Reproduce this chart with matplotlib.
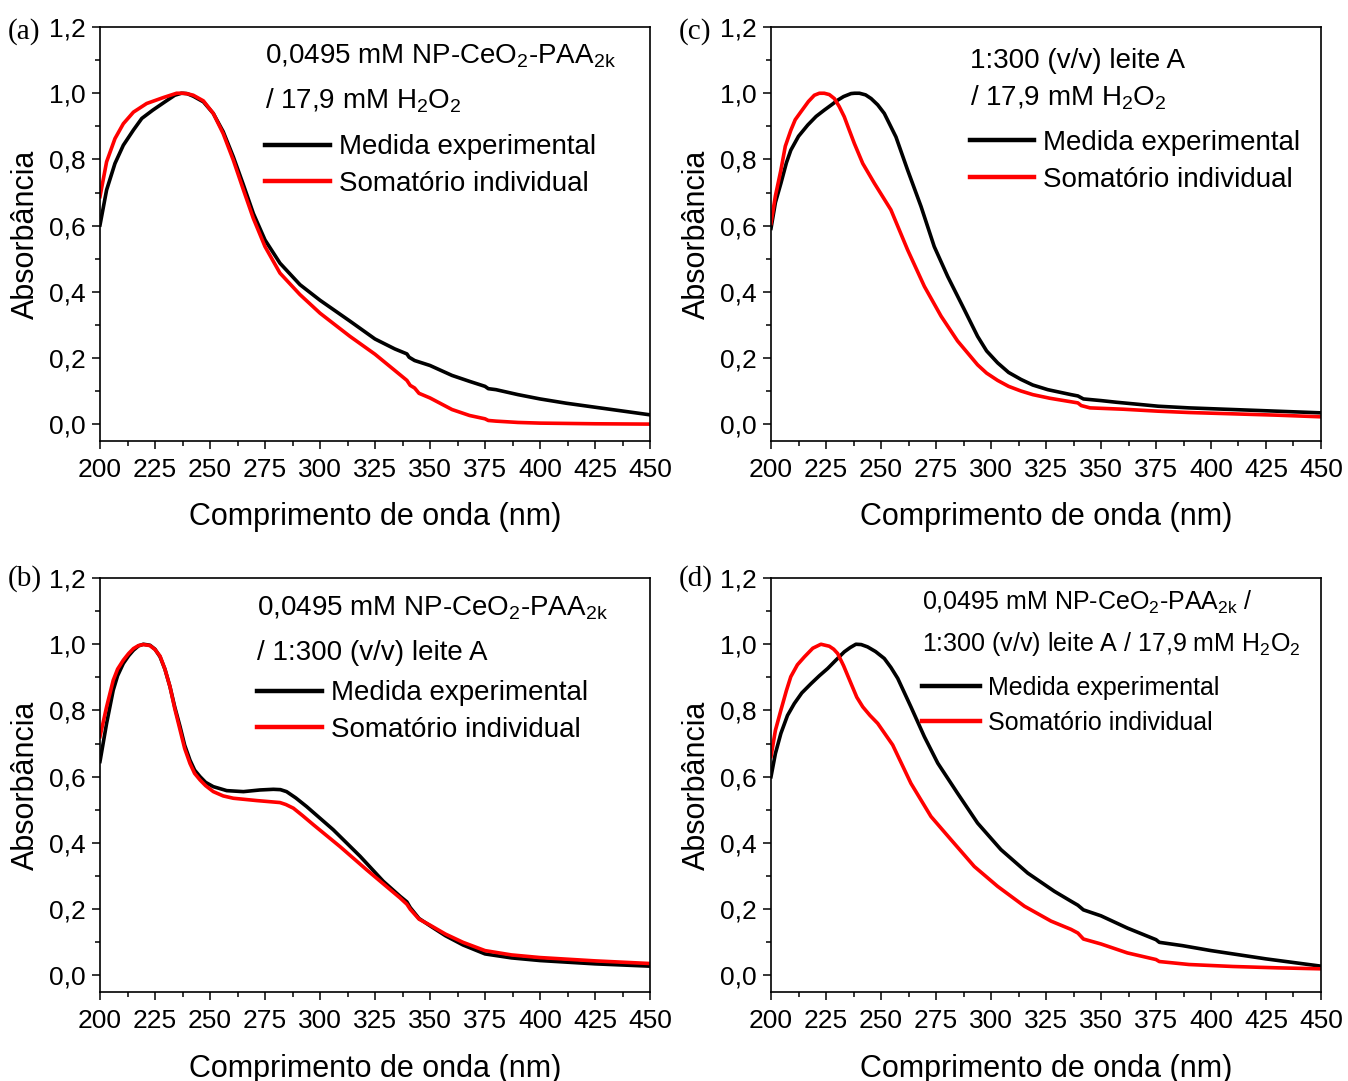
import numpy as np
import matplotlib
matplotlib.use('Agg')
from matplotlib import pyplot as plt
from matplotlib.lines import Line2D
from matplotlib.ticker import MultipleLocator, FuncFormatter

plt.rcParams['font.family'] = ['Liberation Sans', 'DejaVu Sans']
plt.rcParams['mathtext.fontset'] = 'custom'
plt.rcParams['mathtext.rm'] = 'Liberation Sans'
plt.rcParams['mathtext.it'] = 'Liberation Sans:italic'

# (a) NP-CeO2-PAA2k / H2O2
wl_a_exp = [200, 203, 206.8, 210.6, 215.2, 219, 224, 229.5, 234, 237, 239.5, 242.4, 247, 251.5, 256, 260.6,
            265.2, 269.7, 275, 281.8, 290.9, 300, 313.6, 325, 334, 339.5, 340.5, 343, 350, 360, 368,
            375, 376.5, 380, 390, 400, 412, 425, 437, 450]
abs_a_exp = [0.602, 0.708, 0.788, 0.843, 0.889, 0.924, 0.949, 0.974, 0.994, 1.0, 0.999, 0.991, 0.974, 0.939,
             0.884, 0.808, 0.723, 0.637, 0.557, 0.487, 0.422, 0.375, 0.312, 0.258, 0.228, 0.213, 0.203,
             0.193, 0.178, 0.148, 0.130, 0.115, 0.108, 0.105, 0.090, 0.077, 0.064, 0.052, 0.041, 0.029]
wl_a_sum = [200, 203, 206.8, 210.6, 215.2, 221.2, 228.8, 234.8, 237.9, 240, 242.4, 247, 251.5, 256, 260.6,
            265.2, 269.7, 275, 281.8, 290.9, 300, 313.6, 325, 334, 339.5, 341, 343, 345, 350, 360, 368,
            375, 376.5, 380, 390, 400, 425, 450]
abs_a_sum = [0.688, 0.793, 0.863, 0.908, 0.943, 0.969, 0.987, 1.0, 1.0, 0.998, 0.994, 0.977, 0.939, 0.878,
             0.798, 0.708, 0.622, 0.537, 0.457, 0.392, 0.336, 0.266, 0.212, 0.163, 0.133, 0.118, 0.110,
             0.094, 0.080, 0.045, 0.027, 0.017, 0.012, 0.010, 0.006, 0.004, 0.002, 0.001]

# (c) leite A / H2O2
wl_c_exp = [200, 202, 204.5, 207, 209, 212.5, 216.7, 220.5, 224.2, 227.5, 230.3, 233, 236.4, 238, 240.2,
            243, 245.5, 248.5, 251.5, 256.8, 262.1, 268.2, 274.2, 280.3, 287.1, 293.9, 298, 303, 308,
            313.6, 319, 325.8, 336.4, 339.5, 342, 350, 357, 365, 376, 390, 410, 430, 450]
abs_c_exp = [0.592, 0.670, 0.728, 0.790, 0.828, 0.870, 0.904, 0.930, 0.949, 0.965, 0.979, 0.990, 0.999,
             1.0, 1.0, 0.995, 0.984, 0.965, 0.939, 0.868, 0.768, 0.658, 0.537, 0.447, 0.357, 0.266,
             0.222, 0.186, 0.157, 0.136, 0.119, 0.105, 0.090, 0.086, 0.077, 0.072, 0.067, 0.062, 0.055,
             0.050, 0.045, 0.040, 0.035]
wl_c_sum = [200, 202, 204.5, 206.5, 209, 211, 213.6, 217, 219.7, 222, 224.2, 226.5, 228.8, 231, 233.3,
            235.5, 237.9, 241.7, 247, 254.5, 262.1, 269.7, 277.3, 284.8, 293.9, 298, 303, 308, 313.6,
            319, 326.8, 339.5, 341, 345, 360, 376, 390, 410, 430, 450]
abs_c_sum = [0.607, 0.690, 0.768, 0.840, 0.888, 0.920, 0.944, 0.975, 0.994, 1.0, 1.0, 0.996, 0.984, 0.960,
             0.929, 0.890, 0.848, 0.788, 0.728, 0.648, 0.527, 0.417, 0.327, 0.252, 0.180, 0.155, 0.133,
             0.115, 0.101, 0.090, 0.079, 0.065, 0.057, 0.050, 0.046, 0.040, 0.036, 0.032, 0.028, 0.023]

# (b) NP-CeO2-PAA2k / leite A
wl_b_exp = [200, 203, 206, 208, 210.6, 213, 215.2, 217.5, 219.7, 222.7, 225, 227.3, 229.5, 231.8, 234,
            236.4, 238.5, 240.9, 243, 245.5, 248, 251.5, 257.6, 265.2, 272.7, 278.8, 282, 284.8, 289,
            293.9, 306, 318.2, 328.8, 336.4, 339.5, 341, 345, 350, 357, 365, 375, 387, 400, 425, 450]
abs_b_exp = [0.646, 0.761, 0.861, 0.905, 0.942, 0.965, 0.982, 0.995, 1.0, 0.997, 0.985, 0.962, 0.925,
             0.872, 0.810, 0.751, 0.695, 0.650, 0.620, 0.600, 0.583, 0.570, 0.558, 0.555, 0.560, 0.562,
             0.561, 0.555, 0.536, 0.510, 0.440, 0.360, 0.284, 0.239, 0.222, 0.205, 0.172, 0.150, 0.120,
             0.092, 0.065, 0.053, 0.045, 0.035, 0.028]
wl_b_sum = [200, 203, 206, 208, 210.6, 213, 215.2, 217.5, 219.7, 222.7, 225, 227.3, 229.5, 231.8, 234,
            236.4, 238.5, 240.9, 243, 245.5, 248, 251.5, 256, 260.6, 271.2, 281.8, 284.5, 287.9, 292,
            297, 309.1, 321.2, 336.4, 339.5, 341, 345, 350, 357, 365, 375, 387, 400, 425, 450]
abs_b_sum = [0.721, 0.811, 0.891, 0.925, 0.952, 0.972, 0.987, 0.996, 0.999, 0.996, 0.984, 0.964, 0.925,
             0.872, 0.805, 0.741, 0.685, 0.640, 0.610, 0.590, 0.573, 0.555, 0.542, 0.535, 0.528, 0.522,
             0.516, 0.505, 0.483, 0.455, 0.389, 0.319, 0.234, 0.215, 0.200, 0.170, 0.152, 0.125, 0.100,
             0.075, 0.062, 0.054, 0.044, 0.036]

# (d) NP-CeO2-PAA2k / leite A / H2O2
wl_d_exp = [200, 202, 204.5, 207.5, 210.6, 214, 218.2, 222, 225.8, 229.5, 233.3, 236, 238.6, 241, 243.9,
            247.5, 251.5, 254.5, 257.6, 263.6, 269.7, 275.8, 284.8, 293.9, 304.5, 316.7, 328.8, 336.4,
            339.5, 342, 350, 362, 375, 376.5, 387, 400, 425, 450]
abs_d_exp = [0.600, 0.670, 0.731, 0.785, 0.821, 0.853, 0.881, 0.905, 0.927, 0.952, 0.977, 0.990, 1.0,
             0.999, 0.992, 0.978, 0.957, 0.930, 0.897, 0.811, 0.721, 0.641, 0.550, 0.460, 0.380, 0.309,
             0.254, 0.224, 0.212, 0.198, 0.180, 0.143, 0.108, 0.100, 0.090, 0.075, 0.050, 0.028]
wl_d_sum = [200, 202, 204.5, 207, 209, 212, 215.2, 219, 222.7, 226.5, 228.5, 230.3, 233, 236.4, 239,
            241.7, 245, 248.5, 255.3, 263.6, 272.7, 281.8, 292.4, 303, 315.2, 327.3, 336.4, 339.5, 342,
            350, 362, 375, 376.5, 390, 410, 430, 450]
abs_d_sum = [0.661, 0.740, 0.801, 0.860, 0.902, 0.938, 0.962, 0.988, 1.0, 0.994, 0.985, 0.972, 0.935,
             0.881, 0.840, 0.811, 0.785, 0.761, 0.696, 0.580, 0.480, 0.410, 0.329, 0.269, 0.209, 0.164,
             0.139, 0.128, 0.110, 0.095, 0.068, 0.048, 0.042, 0.033, 0.027, 0.023, 0.020]

lbl_exp = 'Medida experimental'
lbl_sum = u'Somatório individual'

W, H = 1348, 1081
fig = plt.figure(figsize=(W / 100., H / 100.), dpi=100)

def px_axes(x0, y0, x1, y1):
    # axes box given in pixel coords (top-left origin)
    return fig.add_axes([x0 / W, 1 - y1 / H, (x1 - x0) / W, (y1 - y0) / H])

def comma(v, pos):
    return ('%.1f' % v).replace('.', ',')

def style(ax):
    ax.set_xlim(200, 450)
    ax.set_ylim(-0.05, 1.2)
    ax.xaxis.set_major_locator(MultipleLocator(25))
    ax.xaxis.set_minor_locator(MultipleLocator(12.5))
    ax.yaxis.set_major_locator(MultipleLocator(0.2))
    ax.yaxis.set_minor_locator(MultipleLocator(0.1))
    ax.yaxis.set_major_formatter(FuncFormatter(comma))
    ax.tick_params(which='both', direction='out', top=False, right=False, width=1.1, labelsize=19)
    ax.tick_params(axis='x', pad=6)
    ax.tick_params(axis='y', pad=4)
    ax.tick_params(which='major', length=6)
    ax.tick_params(which='minor', length=3.5)
    for s in ax.spines.values():
        s.set_linewidth(1.2)
    ax.set_xlabel('Comprimento de onda (nm)', fontsize=22, labelpad=15)
    ax.set_ylabel(u'Absorbância', fontsize=22, labelpad=6)

def draw(ax, wl_e, ab_e, wl_s, ab_s):
    ax.plot(wl_e, ab_e, color='black', lw=2.6, solid_joinstyle='round')
    ax.plot(wl_s, ab_s, color='#ff0000', lw=2.6, solid_joinstyle='round')

def add_legend(ax, x, y, fs, hl, sp):
    handles = [Line2D([], [], color='black', lw=3.2), Line2D([], [], color='#ff0000', lw=3.2)]
    ax.legend(handles, [lbl_exp, lbl_sum], loc='upper left', bbox_to_anchor=(x, y), frameon=False,
              fontsize=fs, handlelength=hl, handletextpad=0.32, labelspacing=sp,
              borderpad=0, borderaxespad=0)

ax_a = px_axes(100, 27, 650, 441)
ax_c = px_axes(771, 27, 1321, 441)
ax_b = px_axes(100, 578, 650, 992)
ax_d = px_axes(771, 578, 1321, 992)

draw(ax_a, wl_a_exp, abs_a_exp, wl_a_sum, abs_a_sum)
draw(ax_c, wl_c_exp, abs_c_exp, wl_c_sum, abs_c_sum)
draw(ax_b, wl_b_exp, abs_b_exp, wl_b_sum, abs_b_sum)
draw(ax_d, wl_d_exp, abs_d_exp, wl_d_sum, abs_d_sum)
for ax in (ax_a, ax_b, ax_c, ax_d):
    style(ax)

fs = 20
ax_a.text(0.30, 0.93, r'0,0495 mM NP-CeO$_2$-PAA$_{\mathrm{2k}}$', transform=ax_a.transAxes, fontsize=fs, va='center')
ax_a.text(0.30, 0.822, r'/ 17,9 mM H$_2$O$_2$', transform=ax_a.transAxes, fontsize=fs, va='center')
add_legend(ax_a, 0.30, 0.741, fs, 2.35, 0.38)

ax_c.text(0.362, 0.918, '1:300 (v/v) leite A', transform=ax_c.transAxes, fontsize=fs, va='center')
ax_c.text(0.362, 0.829, r'/ 17,9 mM H$_2$O$_2$', transform=ax_c.transAxes, fontsize=fs, va='center')
add_legend(ax_c, 0.362, 0.751, fs, 2.3, 0.38)

ax_b.text(0.285, 0.928, r'0,0495 mM NP-CeO$_2$-PAA$_{\mathrm{2k}}$', transform=ax_b.transAxes, fontsize=fs, va='center')
ax_b.text(0.285, 0.819, '/ 1:300 (v/v) leite A', transform=ax_b.transAxes, fontsize=fs, va='center')
add_legend(ax_b, 0.285, 0.753, fs, 2.35, 0.38)

fs_d = 18
ax_d.text(0.275, 0.942, r'0,0495 mM NP-CeO$_2$-PAA$_{\mathrm{2k}}$ /', transform=ax_d.transAxes, fontsize=fs_d, va='center')
ax_d.text(0.275, 0.841, r'1:300 (v/v) leite A / 17,9 mM H$_2$O$_2$', transform=ax_d.transAxes, fontsize=fs_d, va='center')
add_legend(ax_d, 0.275, 0.763, fs_d, 2.3, 0.42)

# panel letters
for lab, x, y in [('(a)', 8, 32), ('(c)', 679, 32), ('(b)', 8, 579), ('(d)', 679, 579)]:
    fig.text(x / W, 1 - y / H, lab, fontsize=21, family='Liberation Serif', va='center', ha='left')

fig.savefig('out.png', dpi=100)
